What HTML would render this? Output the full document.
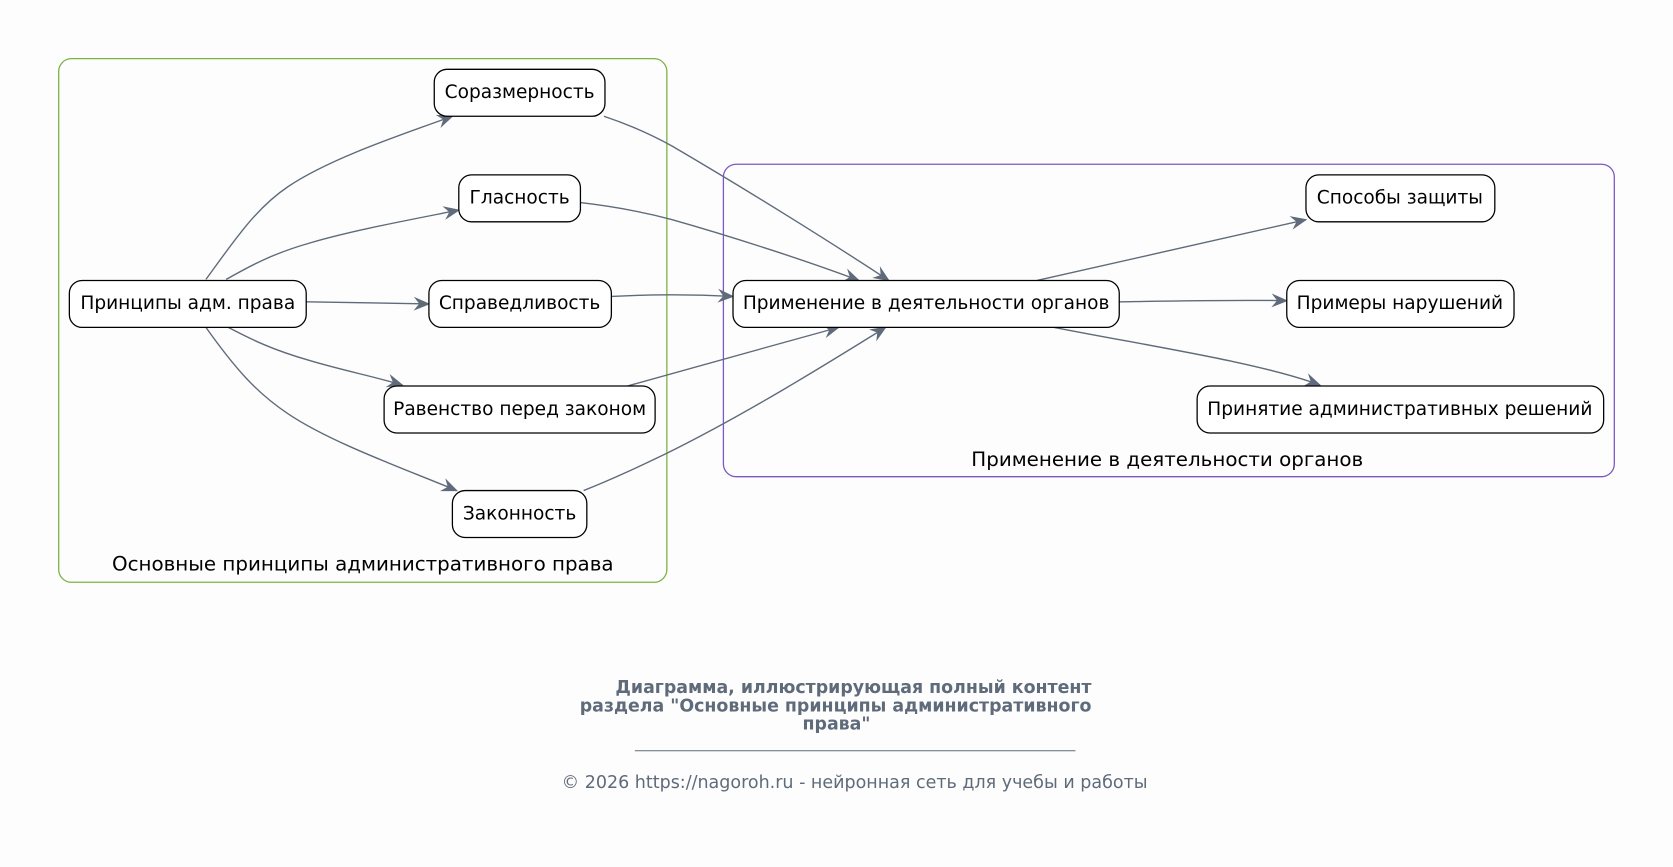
<!DOCTYPE html>
<html><head><meta charset="utf-8"><style>
html,body{margin:0;padding:0;background:#fdfdfd;}
svg{display:block;}
text{font-family:"DejaVu Sans","Liberation Sans",sans-serif;}
</style></head><body>
<svg width="1673" height="867" viewBox="0 0 1568 813" preserveAspectRatio="none" xmlns="http://www.w3.org/2000/svg">
<defs>
<marker id="a" viewBox="0 0 12 10" refX="11" refY="5" markerWidth="17" markerHeight="13" markerUnits="userSpaceOnUse" orient="auto">
<path d="M0,0 L12,5 L0,10 L4,5 z" fill="#5f6b7a"/>
</marker>
</defs>
<rect width="1568" height="813" fill="#fdfdfd"/>
<rect x="55" y="55" width="570" height="491" rx="12" fill="none" stroke="#7cb342" stroke-width="1.2"/>
<text x="340" y="535" font-size="18.6" text-anchor="middle" fill="#000">Основные принципы административного права</text>
<rect x="678" y="154" width="835" height="293" rx="12" fill="none" stroke="#7e57c2" stroke-width="1.2"/>
<text x="1094" y="437" font-size="18.6" text-anchor="middle" fill="#000">Применение в деятельности органов</text>

<g fill="none" stroke="#5f6b7a" stroke-width="1.3" marker-end="url(#a)">
<path d="M193,262 C220,225 240,195 270,175 C310,148 380,125 424,109"/>
<path d="M212,262 C235,249 255,238 290,228 C330,216 390,205 430,197"/>
<path d="M287,283 L402,285"/>
<path d="M214,307 C235,318 255,328 290,338 C320,347 350,353 377,361"/>
<path d="M193,307 C220,345 240,368 270,388 C310,415 380,440 428,460"/>
<path d="M566,109 C590,117 610,126 630,137 C700,178 780,228 833,263"/>
<path d="M544,190 C570,193 600,198 630,206 C690,223 760,246 805,263"/>
<path d="M573,278 C610,276 650,276 687,278"/>
<path d="M588,362 C650,345 720,325 786,307"/>
<path d="M547,460 C575,449 600,437 625,425 C700,388 780,338 830,307"/>
<path d="M972,263 C1050,246 1150,222 1224,206"/>
<path d="M1049,283 C1110,282 1160,281 1206,282"/>
<path d="M988,307 C1080,325 1180,340 1237,361"/>
</g>

<g stroke="#000" stroke-width="1.2" fill="#fff">
<rect x="407" y="65" width="160" height="44" rx="12"/>
<rect x="430" y="164" width="114" height="44" rx="12"/>
<rect x="65" y="263" width="222" height="44" rx="12"/>
<rect x="402" y="263" width="171" height="44" rx="12"/>
<rect x="360" y="362" width="254" height="44" rx="12"/>
<rect x="424" y="460" width="126" height="44" rx="12"/>
<rect x="687" y="263" width="362" height="44" rx="12"/>
<rect x="1224" y="164" width="177" height="44" rx="12"/>
<rect x="1206" y="263" width="213" height="44" rx="12"/>
<rect x="1122" y="362" width="381" height="44" rx="12"/>
</g>
<g font-size="17.4" text-anchor="middle" fill="#000">
<text x="487" y="92">Соразмерность</text>
<text x="487" y="191">Гласность</text>
<text x="176" y="290">Принципы адм. права</text>
<text x="487" y="290">Справедливость</text>
<text x="487" y="389">Равенство перед законом</text>
<text x="487" y="487">Законность</text>
<text x="868" y="290">Применение в деятельности органов</text>
<text x="1312" y="191">Способы защиты</text>
<text x="1312" y="290">Примеры нарушений</text>
<text x="1312" y="389">Принятие административных решений</text>
</g>

<g font-size="16.3" font-weight="bold" fill="#5f6b7a">
<text x="1023" y="650" text-anchor="end">Диаграмма, иллюстрирующая полный контент</text>
<text x="1023" y="667" text-anchor="end">раздела "Основные принципы административного</text>
<text x="784" y="684" text-anchor="middle">права"</text>
</g>
<line x1="595" y1="704" x2="1008" y2="704" stroke="#5f6b7a" stroke-width="1"/>
<text x="801" y="739" font-size="16.4" text-anchor="middle" fill="#5f6b7a">© 2026 https://nagoroh.ru - нейронная сеть для учебы и работы</text>
</svg>
</body></html>
